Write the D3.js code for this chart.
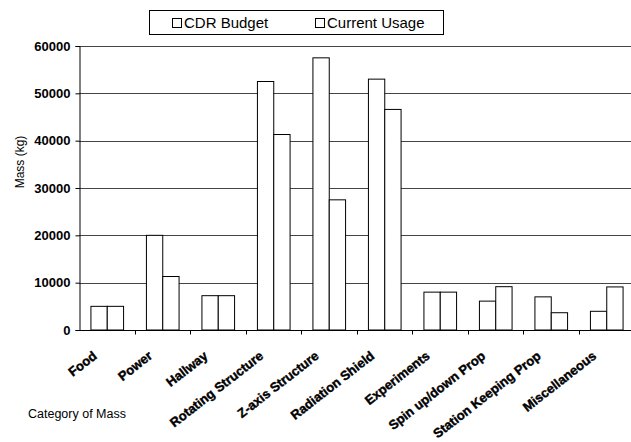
<!DOCTYPE html>
<html>
<head>
<meta charset="utf-8">
<script src="https://cdn.jsdelivr.net/npm/d3@7"></script>
<style>
    body { margin: 0; background: #fff; }
    text { font-family: "Liberation Sans", Arial, sans-serif; }
</style>
</head>
<body>
<div id="chart"></div>
<script>
// categories and the two series (kg)
const categories = ["Food", "Power", "Hallway", "Rotating Structure", "Z-axis Structure",
    "Radiation Shield", "Experiments", "Spin up/down Prop", "Station Keeping Prop", "Miscellaneous"];
const cdrBudget = [5000, 20000, 7250, 52500, 57500, 53000, 8000, 6100, 7000, 3950];
const currentUsage = [5000, 11300, 7250, 41300, 27500, 46600, 8000, 9150, 3650, 9100];
const seriesNames = ["CDR Budget", "Current Usage"];
const yTicks = [0, 10000, 20000, 30000, 40000, 50000, 60000];

const width = 631, height = 442;
const margin = { top: 46, right: -3, bottom: 112, left: 79 };

const svg = d3.select("#chart")
    .append("svg")
    .attr("width", width)
    .attr("height", height);

const x = d3.scaleBand()
    .domain(categories)
    .range([margin.left, width - margin.right]);

const inner = d3.scaleBand()
    .domain(seriesNames)
    .range([0, x.bandwidth()])
    .paddingInner(0)
    .paddingOuter(0.7);

const y = d3.scaleLinear()
    .domain([0, 60000])
    .range([height - margin.bottom, margin.top]);

// gridlines
svg.append("g")
    .selectAll("line")
    .data(yTicks.slice(1))
    .join("line")
    .attr("x1", margin.left)
    .attr("x2", width - margin.right)
    .attr("y1", d => Math.round(y(d)) + 0.5)
    .attr("y2", d => Math.round(y(d)) + 0.5)
    .attr("stroke", "#444")
    .attr("stroke-width", 1);

// bars
const rows = categories.map((c, i) => ({ cat: c, vals: [cdrBudget[i], currentUsage[i]] }));
svg.append("g")
    .selectAll("g")
    .data(rows)
    .join("g")
    .attr("transform", d => `translate(${x(d.cat)},0)`)
    .selectAll("rect")
    .data(d => d.vals.map((v, j) => ({ name: seriesNames[j], v })))
    .join("rect")
    .attr("x", d => inner(d.name) + 0.5)
    .attr("y", d => y(d.v))
    .attr("width", inner.bandwidth())
    .attr("height", d => y(0) - y(d.v))
    .attr("fill", "#fff")
    .attr("stroke", "#000")
    .attr("stroke-width", 1);

// y axis
const yAxis = svg.append("g")
    .attr("transform", `translate(${margin.left + 0.5},0)`)
    .call(d3.axisLeft(y).tickValues(yTicks).tickSize(4).tickFormat(d3.format("d")));
yAxis.select(".domain").attr("stroke", "#000");
yAxis.selectAll("text")
    .attr("font-family", "Liberation Sans, Arial, sans-serif")
    .attr("font-size", 13)
    .attr("font-weight", "bold")
    .attr("fill", "#000")
    .attr("x", -9);

// x axis
const xAxis = svg.append("g")
    .attr("transform", `translate(0,${y(0) + 0.5})`);
xAxis.append("line")
    .attr("x1", margin.left)
    .attr("x2", width - margin.right)
    .attr("stroke", "#000");
xAxis.selectAll(".tick")
    .data(categories.slice(1))
    .join("line")
    .attr("class", "tick")
    .attr("x1", d => Math.round(x(d)) + 0.5)
    .attr("x2", d => Math.round(x(d)) + 0.5)
    .attr("y1", 0)
    .attr("y2", 4)
    .attr("stroke", "#000");
xAxis.selectAll(".lbl")
    .data(categories)
    .join("text")
    .attr("class", "lbl")
    .attr("text-anchor", "end")
    .attr("font-size", 13)
    .attr("font-weight", "bold")
    .attr("stroke", "#000")
    .attr("stroke-width", 0.4)
    .attr("transform", d => `translate(${x(d) + x.bandwidth() / 2 - 9},${27}) rotate(-38)`)
    .text(d => d);

// axis titles
svg.append("text")
    .attr("transform", `translate(24,${162}) rotate(-90)`)
    .attr("text-anchor", "middle")
    .attr("font-size", 12)
    .text("Mass (kg)");

svg.append("text")
    .attr("x", 28)
    .attr("y", 418)
    .attr("font-size", 12.5)
    .text("Category of Mass");

// legend
const legend = svg.append("g");
legend.append("rect")
    .attr("x", 149.5)
    .attr("y", 10.5)
    .attr("width", 294)
    .attr("height", 24)
    .attr("fill", "#fff")
    .attr("stroke", "#000");
const legX = [172, 315];
const items = legend.selectAll(".item")
    .data(seriesNames)
    .join("g")
    .attr("class", "item")
    .attr("transform", (d, i) => `translate(${legX[i]},0)`);
items.append("rect")
    .attr("x", 0.5)
    .attr("y", 18.5)
    .attr("width", 9)
    .attr("height", 9)
    .attr("fill", "#fff")
    .attr("stroke", "#000");
items.append("text")
    .attr("x", 12)
    .attr("y", 28)
    .attr("font-size", 15)
    .text(d => d);
</script>
</body>
</html>
